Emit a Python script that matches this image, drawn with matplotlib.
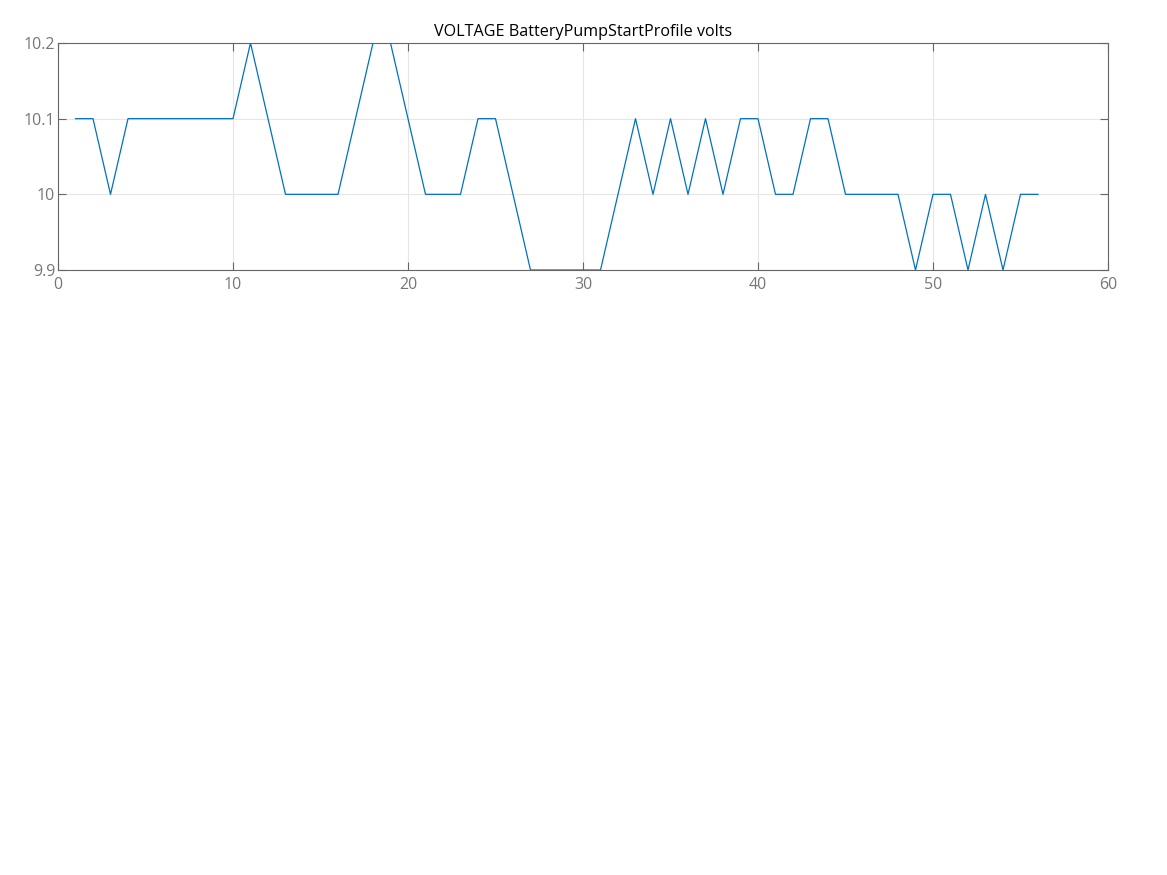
import matplotlib
matplotlib.use("Agg")
import matplotlib.pyplot as plt

plt.rcParams['font.family'] = ['Open Sans', 'DejaVu Sans']

sample = list(range(1, 57))
volts = [10.1, 10.1, 10.0, 10.1, 10.1, 10.1, 10.1, 10.1, 10.1, 10.1,
         10.2, 10.1, 10.0, 10.0, 10.0, 10.0, 10.1, 10.2, 10.2, 10.1,
         10.0, 10.0, 10.0, 10.1, 10.1, 10.0, 9.9, 9.9, 9.9, 9.9,
         9.9, 10.0, 10.1, 10.0, 10.1, 10.0, 10.1, 10.0, 10.1, 10.1,
         10.0, 10.0, 10.1, 10.1, 10.0, 10.0, 10.0, 10.0, 9.9, 10.0,
         10.0, 9.9, 10.0, 9.9, 10.0, 10.0]
xticks = [0, 10, 20, 30, 40, 50, 60]
yticks = [9.9, 10.0, 10.1, 10.2]
ytick_labels = ['9.9', '10', '10.1', '10.2']

fig = plt.figure(figsize=(11.67, 8.75), dpi=100)
ax = fig.add_axes([58 / 1167, 1 - 270 / 875, 1050 / 1167, 227 / 875])

ax.plot(sample, volts, color='#0072BD', lw=0.9)

ax.set_xlim(0, 60)
ax.set_ylim(9.9, 10.2)
ax.set_xticks(xticks)
ax.set_yticks(yticks, ytick_labels)
ax.grid(True, color='#E6E6E6', lw=0.8)
ax.set_axisbelow(True)

ax.tick_params(direction='in', length=6, width=0.8, color='#666666',
               labelcolor='#777777', labelsize=11.5,
               top=True, right=True)
ax.tick_params(axis='x', pad=5)
ax.tick_params(axis='y', pad=2)
for s in ax.spines.values():
    s.set_color('#666666')
    s.set_linewidth(0.8)

ax.set_title('VOLTAGE BatteryPumpStartProfile volts', fontsize=11.6, pad=5)

plt.savefig('out.png', dpi=100)
